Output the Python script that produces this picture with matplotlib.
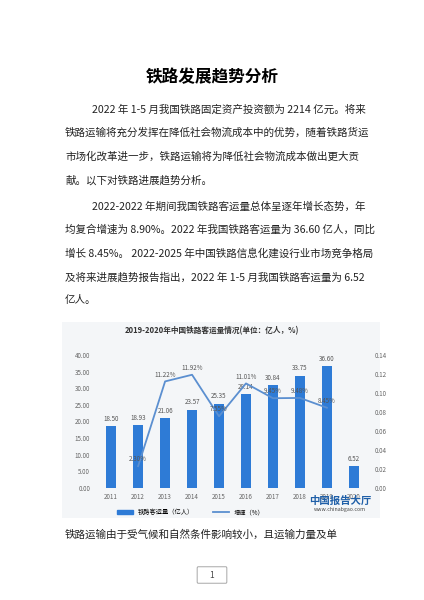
import matplotlib.pyplot as plt
import matplotlib.patches as mpatches
import numpy as np

plt.rcParams['font.family'] = ['Noto Sans CJK SC', 'DejaVu Sans']

# 数据
years = ['2011', '2012', '2013', '2014', '2015', '2016', '2017', '2018', '2019', '2020']
volume = [18.50, 18.93, 21.06, 23.57, 25.35, 28.14, 30.84, 33.75, 36.60, 6.52]
growth = [None, 0.023, 0.1122, 0.1192, 0.0755, 0.1101, 0.0945, 0.0948, 0.0845, None]
growth_labels = ['', '2.30%', '11.22%', '11.92%', '7.55%', '11.01%', '9.45%', '9.48%', '8.45%', '']

title = '铁路发展趋势分析'
para = [
    (92, '2022 年 1-5 月我国铁路固定资产投资额为 2214 亿元。将来'),
    (65, '铁路运输将充分发挥在降低社会物流成本中的优势，随着铁路货运'),
    (65, '市场化改革进一步，铁路运输将为降低社会物流成本做出更大贡'),
    (65, '献。以下对铁路进展趋势分析。'),
    (92, '2022-2022 年期间我国铁路客运量总体呈逐年增长态势，年'),
    (65, '均复合增速为 8.90%。2022 年我国铁路客运量为 36.60 亿人，同比'),
    (65, '增长 8.45%。 2022-2025 年中国铁路信息化建设行业市场竞争格局'),
    (65, '及将来进展趋势报告指出，2022 年 1-5 月我国铁路客运量为 6.52'),
    (65, '亿人。'),
]
para_y = [110, 133, 157, 180, 207, 230, 253, 277, 300]

W, H = 424, 600
fig = plt.figure(figsize=(W / 100, H / 100), dpi=100)
fig.patch.set_facecolor('white')

fig.text(0.5, 1 - 77 / H, title, ha='center', va='center', fontsize=12, fontweight='bold')
for (x, s), y in zip(para, para_y):
    fig.text(x / W, 1 - y / H, s, ha='left', va='center', fontsize=7.6, color='#222222')

# 图表背景
fig.patches.append(mpatches.Rectangle((62 / W, 1 - 518 / H), 318 / W, 196 / H,
                                      transform=fig.transFigure, facecolor='#f4f6f8',
                                      edgecolor='none', zorder=-5))
fig.text(0.5, 1 - 331 / H, '2019-2020年中国铁路客运量情况(单位：亿人，%)', ha='center',
         va='center', fontsize=5.5, fontweight='bold', color='#333333')

ax = fig.add_axes([95 / W, 1 - 488 / H, 275 / W, 133 / H])
ax.set_zorder(2)
ax.set_facecolor('none')
x = np.arange(len(years))
blue = '#2e7bd6'
ax.bar(x, volume, width=0.35, color=blue, zorder=2)
for xi, v in zip(x, volume):
    ax.text(xi, v + 1, f'{v:.2f}', ha='center', va='bottom', fontsize=4.5, color='#555555')
ax.set_ylim(0, 40)
ax.set_yticks(np.arange(0, 41, 5))
ax.set_yticklabels([f'{v:.2f}' for v in np.arange(0, 41, 5)], fontsize=4.5, color='#666666')
ax.set_xticks(x)
ax.set_xticklabels(years, fontsize=4.5, color='#666666')
ax.set_xlim(-0.6, len(years) - 0.4)
for s in ax.spines.values():
    s.set_visible(False)
ax.tick_params(length=0)

ax2 = ax.twinx()
gx = [xi for xi, g in zip(x, growth) if g is not None]
gy = [g for g in growth if g is not None]
ax2.plot(gx, gy, color='#5b8fd0', lw=1.3, zorder=3)
for xi, g, lab in zip(x, growth, growth_labels):
    if g is not None:
        ax2.text(xi, g + 0.003, lab, ha='center', va='bottom', fontsize=4.5, color='#555555')
ax2.set_ylim(0, 0.14)
ax2.set_yticks(np.arange(0, 0.141, 0.02))
ax2.set_yticklabels([f'{v:.2f}' for v in np.arange(0, 0.141, 0.02)], fontsize=4.5, color='#666666')
for s in ax2.spines.values():
    s.set_visible(False)
ax2.tick_params(length=0)

h1 = mpatches.Patch(color=blue, label='铁路客运量（亿人）')
h2 = plt.Line2D([], [], color='#5b8fd0', lw=1.3, label='增速（%）')
fig.legend(handles=[h1, h2], loc='center', bbox_to_anchor=(0.45, 1 - 512 / H), ncol=2,
           frameon=False, fontsize=4.5, handlelength=2.5, columnspacing=3)
fig.text(340 / W, 1 - 501 / H, '中国报告大厅', fontsize=7.5, color='#1f5fa8', fontweight='bold',
         ha='center', va='center', zorder=5)
fig.text(340 / W, 1 - 510 / H, 'www.chinabgao.com', fontsize=3.8, color='#444444',
         ha='center', va='center', zorder=5)

fig.text(65 / W, 1 - 535 / H, '铁路运输由于受气候和自然条件影响较小，且运输力量及单',
         ha='left', va='center', fontsize=7.6, color='#222222')
fig.patches.append(mpatches.FancyBboxPatch((198 / W, 1 - 582 / H), 28 / W, 14 / H,
                                           boxstyle='round,pad=0.002', transform=fig.transFigure,
                                           facecolor='white', edgecolor='#999999', lw=0.6))
fig.text(212 / W, 1 - 575 / H, '1', ha='center', va='center', fontsize=6, color='#444444')

fig.savefig('out.png', dpi=100)
